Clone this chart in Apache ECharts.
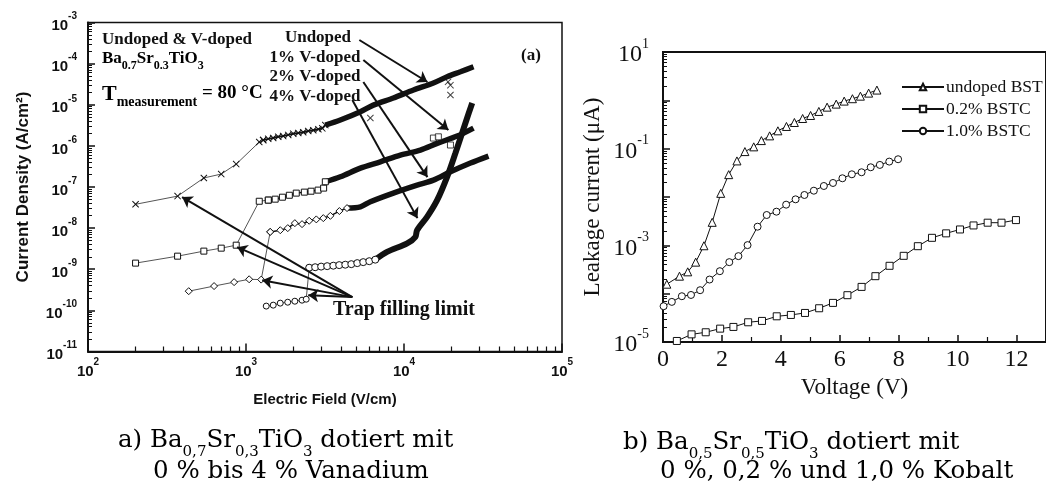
<!DOCTYPE html>
<html>
<head>
<meta charset="utf-8">
<script src="https://cdn.jsdelivr.net/npm/echarts@6/dist/echarts.min.js"></script>
<style>
  html, body { margin: 0; padding: 0; background: #fff; }
  #main { width: 1046px; height: 488px; }
</style>
</head>
<body>
<div id="main"></div>
<script>
// (a) Ba0.7Sr0.3TiO3, J over E at 80 °C -- [field V/cm, current density A/cm2]
const undopedLow = [[200, 3.8e-8], [369, 6e-8], [541, 1.66e-7], [697, 2.06e-7], [867, 3.6e-7], [1213, 1.24e-6]]
const undopedMid = [[1285, 1.38e-6], [1383, 1.48e-6], [1487, 1.55e-6], [1600, 1.66e-6], [1720, 1.73e-6], [1850, 1.85e-6],
  [1991, 1.98e-6], [2142, 2.05e-6], [2303, 2.15e-6], [2477, 2.3e-6], [2665, 2.4e-6], [2869, 2.55e-6], [3040, 2.67e-6]]
const undopedBand = [[3177, 3.2e-6], [3954, 4.25e-6], [5297, 6.76e-6], [6398, 9.8e-6], [8564, 1.46e-5], [11480, 2.28e-5],
  [15350, 3.37e-5], [18750, 4.8e-5], [22750, 6.35e-5], [27540, 8.4e-5]]
const undopedOut = [[6124, 4.75e-6], [19680, 3.0e-5], [19680, 1.72e-5], [19000, 3.6e-5]]

const v1Low = [[200, 1.41e-9], [369, 2.08e-9], [541, 2.76e-9], [697, 3.26e-9], [867, 3.85e-9], [1213, 4.5e-8]]
const v1Mid = [[1384, 4.8e-8], [1530, 5.06e-8], [1700, 5.65e-8], [1880, 6.3e-8], [2080, 7.1e-8], [2340, 7.5e-8],
  [2580, 7.9e-8], [2860, 8.4e-8], [3100, 9.4e-8]]
const v1Band = [[3177, 1.34e-7], [3954, 1.77e-7], [5297, 2.88e-7], [7083, 4.1e-7], [9485, 5.97e-7], [12700, 7.9e-7],
  [16210, 1.15e-6], [21700, 1.73e-6], [27540, 2.71e-6]]
const v1Out = [[15350, 1.55e-6], [16500, 1.66e-6], [19680, 1.05e-6]]

const v2Low = [[434, 2.93e-10], [628, 3.9e-10], [841, 4.86e-10], [1047, 5.7e-10], [1248, 5.6e-10]]
const v2Mid = [[1423, 8.1e-9], [1648, 8.9e-9], [1838, 1.0e-8], [2038, 1.32e-8], [2263, 1.25e-8], [2512, 1.51e-8],
  [2786, 1.63e-8], [3085, 1.75e-8], [3420, 1.99e-8], [3900, 2.6e-8]]
const v2Band = [[4360, 3.07e-8], [5297, 3.3e-8], [6124, 4.37e-8], [8564, 7.1e-8], [12100, 1.11e-7], [15350, 1.47e-7],
  [19680, 2.34e-7], [26360, 3.82e-7], [34260, 5.65e-7]]

const v4Low = [[1343, 1.27e-10], [1487, 1.34e-10], [1647, 1.5e-10], [1837, 1.58e-10], [2038, 1.67e-10], [2263, 1.77e-10], [2405, 1.87e-10]]
const v4Mid = [[2512, 1.09e-9], [2740, 1.12e-9], [2990, 1.16e-9], [3265, 1.19e-9], [3570, 1.22e-9], [3890, 1.26e-9],
  [4250, 1.29e-9], [4640, 1.33e-9], [5060, 1.41e-9], [5520, 1.49e-9], [6030, 1.57e-9], [6580, 1.71e-9]]
const v4Band = [[6580, 1.71e-9], [7810, 2.65e-9], [10470, 4.25e-9], [11800, 6.1e-9], [12100, 8.9e-9], [14000, 1.88e-8],
  [16210, 4.8e-8], [18750, 1.77e-7], [21170, 6.7e-7], [23330, 2.05e-6], [25700, 6.3e-6], [27020, 1.1e-5]]

// annotation arrows of (a): [from, to]
const labelArrows = [
  [[5215, 3.75e-4], [14070, 3.57e-5]],
  [[5530, 1.22e-4], [19100, 2.42e-6]],
  [[5530, 3.57e-5], [14070, 1.74e-7]],
  [[4710, 1.3e-5], [12160, 1.75e-8]]
]
const trapFrom = [4710, 2.1e-10]
const trapTo = [[394, 5.68e-8], [879, 3.45e-9], [1267, 5.4e-10], [2477, 2.34e-10]]

// (b) Ba0.5Sr0.5TiO3, leakage current over voltage
const voltUndoped = [0.13, 0.56, 0.84, 1.11, 1.39, 1.67, 1.96, 2.23, 2.51, 2.78, 3.08, 3.34, 3.62, 3.9, 4.19, 4.46, 4.74,
  5.01, 5.29, 5.57, 5.88, 6.15, 6.43, 6.7, 6.98, 7.26]
const curUndoped = [1.57e-4, 2.3e-4, 2.83e-4, 4.49e-4, 9.8e-4, 2.99e-3, 1.19e-2, 2.9e-2, 5.58e-2, 8.7e-2, 0.109, 0.147, 0.184,
  0.234, 0.288, 0.348, 0.421, 0.486, 0.589, 0.723, 0.835, 0.964, 1.08, 1.22, 1.41, 1.63]
const voltCo02 = [0.47, 0.97, 1.45, 1.94, 2.39, 2.89, 3.36, 3.86, 4.34, 4.82, 5.3, 5.77, 6.26, 6.74, 7.21, 7.69, 8.17, 8.65,
  9.13, 9.61, 10.08, 10.54, 11.02, 11.49, 11.98]
const curCo02 = [1.05e-5, 1.44e-5, 1.59e-5, 1.89e-5, 2.05e-5, 2.56e-5, 2.73e-5, 3.4e-5, 3.63e-5, 3.99e-5, 4.99e-5, 6.44e-5,
  9.3e-5, 1.38e-4, 2.3e-4, 3.77e-4, 6.07e-4, 9.6e-4, 1.43e-3, 1.77e-3, 2.13e-3, 2.58e-3, 2.94e-3, 2.94e-3, 3.33e-3]
const voltCo10 = [0.02, 0.3, 0.64, 0.95, 1.26, 1.58, 1.93, 2.25, 2.56, 2.87, 3.21, 3.52, 3.85, 4.18, 4.5, 4.8, 5.12, 5.46,
  5.77, 6.09, 6.41, 6.74, 7.05, 7.36, 7.68, 7.98]
const curCo10 = [5.5e-5, 6.76e-5, 8.85e-5, 9.4e-5, 1.18e-4, 1.96e-4, 2.92e-4, 4.49e-4, 5.98e-4, 1.01e-3, 2.43e-3, 4.24e-3,
  4.97e-3, 6.94e-3, 8.95e-3, 1.1e-2, 1.35e-2, 1.69e-2, 1.95e-2, 2.44e-2, 2.95e-2, 3.25e-2, 4.12e-2, 4.61e-2, 5.4e-2, 6.04e-2]

const chart = echarts.init(document.getElementById('main'))

const SANS = 'Liberation Sans'
const SERIF = 'Liberation Serif'
const CROSS = 'path://M1,0L5,4L9,0L10,1L6,5L10,9L9,10L5,6L1,10L0,9L4,5L0,1Z'
const INK = '#111'

function exp10 (v) {
  return Math.round(Math.log10(v))
}

// hollow marker style
function hollow (w) {
  return { color: '#fff', borderColor: INK, borderWidth: w || 1 }
}

function arrowPair (a, b) {
  return [{ coord: a }, { coord: b }]
}

const supRichA = {
  b: { fontFamily: SANS, fontWeight: 'bold', fontSize: 15, lineHeight: 22, verticalAlign: 'bottom', color: INK },
  s: { fontFamily: SANS, fontWeight: 'bold', fontSize: 10, lineHeight: 11, verticalAlign: 'top', color: INK }
}
const supRichB = {
  b: { fontFamily: SERIF, fontSize: 24, lineHeight: 30, verticalAlign: 'bottom', color: INK },
  s: { fontFamily: SERIF, fontSize: 14, lineHeight: 14, verticalAlign: 'top', color: INK }
}

// left (a) series
const seriesA = [
  { name: 'undopedLow', data: undopedLow.concat([undopedMid[0]]), symbol: CROSS, symbolSize: 7, itemStyle: { color: INK }, lineStyle: { width: 1, color: '#555' } },
  { name: 'undopedMid', data: undopedMid.concat([undopedBand[0]]), symbol: CROSS, symbolSize: 7, itemStyle: { color: INK }, lineStyle: { width: 2, color: INK } },
  { name: 'undopedBand', data: undopedBand, showSymbol: false, smooth: 0.3, lineStyle: { width: 5.5, color: INK } },
  { name: 'undopedOut', type: 'scatter', data: undopedOut, symbol: CROSS, symbolSize: 7, itemStyle: { color: INK } },

  { name: 'v1Low', data: v1Low.concat([v1Mid[0]]), symbol: 'rect', symbolSize: 6, itemStyle: hollow(), lineStyle: { width: 1, color: '#555' } },
  { name: 'v1Mid', data: v1Mid.concat([v1Band[0]]), symbol: 'rect', symbolSize: 6, itemStyle: hollow(), lineStyle: { width: 1.5, color: INK } },
  { name: 'v1Band', data: v1Band, showSymbol: false, smooth: 0.3, lineStyle: { width: 5.5, color: INK } },
  { name: 'v1Out', type: 'scatter', data: v1Out, symbol: 'rect', symbolSize: 6, itemStyle: hollow() },

  { name: 'v2Low', data: v2Low.concat([v2Mid[0]]), symbol: 'diamond', symbolSize: 7, itemStyle: hollow(), lineStyle: { width: 1, color: '#555' } },
  { name: 'v2Mid', data: v2Mid.concat([v2Band[0]]), symbol: 'diamond', symbolSize: 7, itemStyle: hollow(), lineStyle: { width: 1.5, color: INK } },
  { name: 'v2Band', data: v2Band, showSymbol: false, smooth: 0.3, lineStyle: { width: 5.5, color: INK } },

  { name: 'v4Low', data: v4Low.concat([v4Mid[0]]), symbol: 'circle', symbolSize: 6, itemStyle: hollow(), lineStyle: { width: 1, color: '#555' } },
  { name: 'v4Mid', data: v4Mid, symbol: 'circle', symbolSize: 7, itemStyle: hollow(), lineStyle: { width: 1.5, color: INK } },
  {
    name: 'v4Band',
    data: v4Band,
    showSymbol: false,
    smooth: 0.3,
    lineStyle: { width: 6, color: INK },
    markLine: {
      silent: true,
      symbol: ['none', 'arrow'],
      symbolSize: 10,
      label: { show: false },
      lineStyle: { color: INK, width: 2, type: 'solid' },
      data: labelArrows.map(p => arrowPair(p[0], p[1]))
        .concat(trapTo.map(t => arrowPair(trapFrom, t)))
    }
  }
].map(s => Object.assign({ type: 'line', xAxisIndex: 0, yAxisIndex: 0, animation: false, z: 3 }, s))

const seriesB = [
  { name: 'undoped BST', data: voltUndoped.map((v, i) => [v, curUndoped[i]]), symbol: 'triangle', symbolSize: 8 },
  { name: '0.2% BSTC', data: voltCo02.map((v, i) => [v, curCo02[i]]), symbol: 'rect', symbolSize: 7 },
  { name: '1.0% BSTC', data: voltCo10.map((v, i) => [v, curCo10[i]]), symbol: 'circle', symbolSize: 7 }
].map(s => Object.assign({
  type: 'line',
  xAxisIndex: 1,
  yAxisIndex: 1,
  animation: false,
  itemStyle: hollow(),
  lineStyle: { width: 1, color: INK }
}, s))

const boldSerif = (size) => ({ fontFamily: SERIF, fontWeight: 'bold', fontSize: size, fill: INK })

const capRich = {
  n: { fontFamily: 'DejaVu Serif', fontSize: 24.5, lineHeight: 30, verticalAlign: 'top', color: '#262626' },
  s: { fontFamily: 'DejaVu Serif', fontSize: 15, lineHeight: 16, padding: [17, 0, 0, 0], verticalAlign: 'top', color: '#262626' }
}
const subRich = {
  n: { fontFamily: SERIF, fontWeight: 'bold', fontSize: 17, lineHeight: 20, verticalAlign: 'top', color: INK },
  s: { fontFamily: SERIF, fontWeight: 'bold', fontSize: 12, lineHeight: 12, padding: [10, 0, 0, 0], verticalAlign: 'top', color: INK }
}
const tRich = {
  t: { fontFamily: SERIF, fontWeight: 'bold', fontSize: 22, lineHeight: 24, verticalAlign: 'top', color: INK },
  m: { fontFamily: SERIF, fontWeight: 'bold', fontSize: 14, lineHeight: 14, padding: [12, 0, 0, 0], verticalAlign: 'top', color: INK },
  r: { fontFamily: SERIF, fontWeight: 'bold', fontSize: 19, lineHeight: 24, verticalAlign: 'top', padding: [1, 0, 0, 0], color: INK }
}

const graphic = [
  { type: 'text', left: 102, top: 31, style: Object.assign({ text: 'Undoped & V-doped' }, boldSerif(17)) },
  { type: 'text', left: 102, top: 50, style: { text: '{n|Ba}{s|0.7}{n|Sr}{s|0.3}{n|TiO}{s|3}', rich: subRich } },
  { type: 'text', left: 102, top: 83, style: { text: '{t|T}{m|measurement}{r| = 80 °C}', rich: tRich } },
  { type: 'text', x: 318, y: 38, style: Object.assign({ text: 'Undoped', align: 'center', verticalAlign: 'middle' }, boldSerif(17)) },
  { type: 'text', x: 315, y: 58, style: Object.assign({ text: '1% V-doped', align: 'center', verticalAlign: 'middle' }, boldSerif(17)) },
  { type: 'text', x: 315, y: 77, style: Object.assign({ text: '2% V-doped', align: 'center', verticalAlign: 'middle' }, boldSerif(17)) },
  { type: 'text', x: 315, y: 97, style: Object.assign({ text: '4% V-doped', align: 'center', verticalAlign: 'middle' }, boldSerif(17)) },
  { type: 'text', x: 531, y: 56, style: Object.assign({ text: '(a)', align: 'center', verticalAlign: 'middle' }, boldSerif(17)) },
  { type: 'text', x: 333, y: 310, style: Object.assign({ text: 'Trap filling limit', verticalAlign: 'middle' }, boldSerif(20)) },

  { type: 'text', left: 118, top: 428, style: { text: '{n|a) Ba}{s|0,7}{n|Sr}{s|0,3}{n|TiO}{s|3}{n| dotiert mit}', rich: capRich } },
  { type: 'text', left: 153, top: 459, style: { text: '{n|0 % bis 4 % Vanadium}', rich: capRich } },
  { type: 'text', left: 623, top: 430, style: { text: '{n|b) Ba}{s|0,5}{n|Sr}{s|0,5}{n|TiO}{s|3}{n| dotiert mit}', rich: capRich } },
  { type: 'text', left: 660, top: 459, style: { text: '{n|0 %, 0,2 % und 1,0 % Kobalt}', rich: capRich } }
]

const option = {
  backgroundColor: '#fff',
  animation: false,
  grid: [
    { left: 88, top: 22.5, width: 474, height: 329, show: true, borderColor: INK, borderWidth: 1.5, backgroundColor: 'transparent' },
    { left: 663, top: 52, width: 390, height: 290, show: true, borderColor: INK, borderWidth: 2, backgroundColor: 'transparent' }
  ],
  xAxis: [
    {
      type: 'log',
      gridIndex: 0,
      min: 100,
      max: 100000,
      name: 'Electric Field (V/cm)',
      nameLocation: 'middle',
      nameGap: 41,
      nameTextStyle: { fontFamily: SANS, fontWeight: 'bold', fontSize: 15, color: INK },
      axisLine: { show: true, lineStyle: { color: INK, width: 2 } },
      axisTick: { show: true, inside: true, length: 8, lineStyle: { color: INK, width: 1.5 } },
      minorTick: { show: true, splitNumber: 9, length: 5, lineStyle: { color: INK, width: 1.2 } },
      splitLine: { show: false },
      axisLabel: { margin: 6, formatter: v => '{b|10}{s|' + exp10(v) + '}', rich: supRichA }
    },
    {
      type: 'value',
      gridIndex: 1,
      min: 0,
      max: 13,
      interval: 2,
      name: 'Voltage (V)',
      nameLocation: 'middle',
      nameGap: 26,
      nameTextStyle: { fontFamily: SERIF, fontSize: 23, color: INK },
      axisLine: { show: true, lineStyle: { color: INK, width: 2 } },
      axisTick: { show: true, inside: true, length: 7, lineStyle: { color: INK, width: 1.5 } },
      minorTick: { show: true, splitNumber: 2, length: 5, lineStyle: { color: INK, width: 1.2 } },
      splitLine: { show: false },
      axisLabel: {
        margin: 6,
        fontFamily: SERIF,
        fontSize: 24,
        color: INK,
        showMaxLabel: false,
        formatter: v => (v % 2 === 0 ? String(v) : '')
      }
    }
  ],
  yAxis: [
    {
      type: 'log',
      gridIndex: 0,
      min: 1e-11,
      max: 1e-3,
      name: 'Current Density (A/cm²)',
      nameLocation: 'middle',
      nameGap: 56,
      nameTextStyle: { fontFamily: SANS, fontWeight: 'bold', fontSize: 17, color: INK },
      axisLine: { show: true, lineStyle: { color: INK, width: 2 } },
      axisTick: { show: true, inside: true, length: 7, lineStyle: { color: INK, width: 1.5 } },
      minorTick: { show: true, splitNumber: 9, length: 4, lineStyle: { color: INK, width: 1 } },
      splitLine: { show: false },
      axisLabel: { margin: 11, formatter: v => '{b|10}{s|' + exp10(v) + '}', rich: supRichA }
    },
    {
      type: 'log',
      gridIndex: 1,
      min: 1e-5,
      max: 10,
      name: 'Leakage current (μA)',
      nameLocation: 'middle',
      nameGap: 59,
      nameTextStyle: { fontFamily: SERIF, fontSize: 23, color: INK },
      axisLine: { show: true, lineStyle: { color: INK, width: 2 } },
      axisTick: { show: true, inside: true, length: 7, lineStyle: { color: INK, width: 1.5 } },
      minorTick: { show: true, splitNumber: 9, length: 4, lineStyle: { color: INK, width: 1 } },
      splitLine: { show: false },
      axisLabel: {
        margin: 14,
        formatter: v => (Math.abs(exp10(v)) % 2 === 1 ? '{b|10}{s|' + exp10(v) + '}' : ''),
        rich: supRichB
      }
    }
  ],
  legend: {
    data: ['undoped BST', '0.2% BSTC', '1.0% BSTC'],
    orient: 'vertical',
    left: 896,
    top: 73,
    itemWidth: 42,
    itemHeight: 8,
    itemGap: 4,
    textStyle: { fontFamily: SERIF, fontSize: 17.5, color: INK, padding: [0, 0, 0, -3] }
  },
  graphic: graphic,
  series: seriesA.concat(seriesB)
}

chart.setOption(option)
</script>
</body>
</html>
